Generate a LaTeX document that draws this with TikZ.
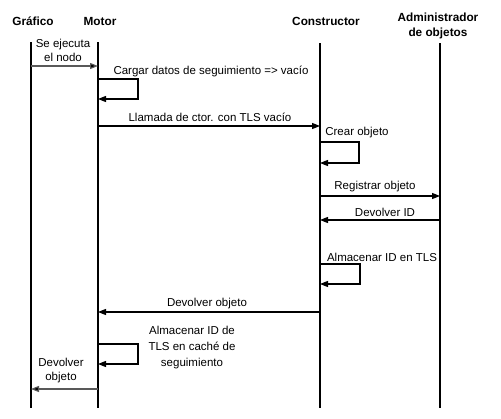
\documentclass[tikz,border=0pt]{standalone}
\usepackage{fontspec}
\setmainfont{Liberation Sans}
\usetikzlibrary{arrows.meta}
\begin{document}
\begin{tikzpicture}[x=1pt,y=-1pt,
  font=\fontsize{11.5}{14}\selectfont,
  hdr/.style={font=\fontsize{11.8}{15}\selectfont\bfseries, align=center, inner sep=0pt},
  lbl/.style={align=center, inner sep=0pt},
  life/.style={line width=1.1pt},
  msg/.style={line width=1.1pt, -{Triangle[length=8pt,width=6pt]}},
  gmsg/.style={msg, draw=black!65, -{Triangle[length=8pt,width=6pt,fill=black]}}]
\useasboundingbox (0,0) rectangle (501,418);
% headers
\node[hdr] (hG) at (33,21) {Gráfico};
\node[hdr] (hM) at (100,21) {Motor};
\node[hdr] (hC) at (326,21) {Constructor};
\node[hdr] (hA) at (438,25.5) {Administrador\\de objetos};
% lifelines
\coordinate (gT) at (31,42);  \coordinate (gB) at (31,408);
\coordinate (mT) at (98,42);  \coordinate (mB) at (98,408);
\coordinate (cT) at (320,43); \coordinate (cB) at (320,408);
\coordinate (aT) at (440,43); \coordinate (aB) at (440,408);
\draw[life] (gT) -- (gB);
\draw[life] (mT) -- (mB);
\draw[life] (cT) -- (cB);
\draw[life] (aT) -- (aB);
% 1 Se ejecuta el nodo
\coordinate (g1) at (31,66); \coordinate (m1) at (98,66);
\draw[gmsg] (g1) -- (m1);
\node[lbl] (l1) at (63,50) {Se ejecuta\\el nodo};
% 2 self loop motor
\coordinate (m2a) at (98,79); \coordinate (m2b) at (138,79);
\coordinate (m2c) at (138,99); \coordinate (m2d) at (98,99);
\draw[msg] (m2a) -- (m2b) -- (m2c) -- (m2d);
\node[lbl] (l2) at (211,71) {Cargar datos de seguimiento => vacío};
% 3 llamada
\coordinate (m3) at (98,126); \coordinate (c3) at (320,126);
\draw[msg] (m3) -- (c3);
\node[lbl] (l3) at (210,117) {Llamada de ctor. con TLS vacío};
% 4 crear objeto
\coordinate (c4a) at (320,142); \coordinate (c4b) at (359,142);
\coordinate (c4c) at (359,163); \coordinate (c4d) at (320,163);
\draw[msg] (c4a) -- (c4b) -- (c4c) -- (c4d);
\node[lbl] (l4) at (357,133) {Crear objeto};
% 5 registrar
\coordinate (c5) at (320,196); \coordinate (a5) at (440,196);
\draw[msg] (c5) -- (a5);
\node[lbl] (l5) at (375,187) {Registrar objeto};
% 6 devolver ID
\coordinate (a6) at (440,220); \coordinate (c6) at (320,220);
\draw[msg] (a6) -- (c6);
\node[lbl] (l6) at (385,212) {Devolver ID};
% 7 almacenar ID en TLS
\coordinate (c7a) at (320,264); \coordinate (c7b) at (360,264);
\coordinate (c7c) at (360,284); \coordinate (c7d) at (320,284);
\draw[msg] (c7a) -- (c7b) -- (c7c) -- (c7d);
\node[lbl] (l7) at (382,257) {Almacenar ID en TLS};
% 8 devolver objeto
\coordinate (c8) at (320,312); \coordinate (m8) at (98,312);
\draw[msg] (c8) -- (m8);
\node[lbl] (l8) at (207,304) {Devolver objeto};
% 9 almacenar en cache
\coordinate (m9a) at (98,344); \coordinate (m9b) at (138,344);
\coordinate (m9c) at (138,364); \coordinate (m9d) at (98,364);
\draw[msg] (m9a) -- (m9b) -- (m9c) -- (m9d);
\node[lbl, font=\fontsize{11.5}{16}\selectfont] (l9) at (192,348) {Almacenar ID de\\TLS en caché de\\seguimiento};
% 10 devolver objeto
\coordinate (m10) at (98,389); \coordinate (g10) at (31,389);
\draw[gmsg] (m10) -- (g10);
\node[lbl] (l10) at (61,371) {Devolver\\objeto};
\end{tikzpicture}
\end{document}
